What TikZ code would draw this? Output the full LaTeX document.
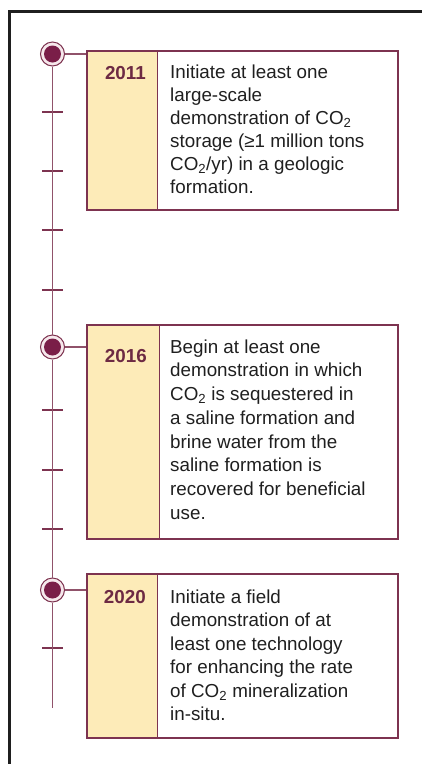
\documentclass[tikz,border=0pt]{standalone}
\usepackage{fontspec}
\setmainfont{Liberation Sans}
\usepackage{xcolor}
\usetikzlibrary{positioning}
\definecolor{tlmaroon}{HTML}{7D3350}
\definecolor{tldotfill}{HTML}{7A1E48}
\definecolor{tlyellow}{HTML}{FDEBB8}
\definecolor{tlyeartext}{HTML}{6D2A43}
\definecolor{tlpink}{HTML}{F6E8EC}
\tikzset{
  tlframe/.style={line width=3pt, draw=black!88, line cap=butt, line join=miter},
  tlline/.style={line width=1.5pt, draw=tlmaroon!85},
  tltick/.style={line width=1.8pt, draw=tlmaroon},
  tlring/.style={circle, fill=tlpink, draw=tlmaroon, line width=1pt, minimum size=24pt, inner sep=0pt},
  tldot/.style={circle, fill=tldotfill, minimum size=17pt, inner sep=0pt},
  tlbox/.style={draw=tlmaroon, line width=2pt, inner sep=0pt, anchor=north west},
  tlyearcol/.style={fill=tlyellow, draw=tlmaroon, line width=1.4pt, inner sep=0pt, anchor=north west},
  tlyear/.style={font=\fontsize{18.8}{22}\selectfont\bfseries, text=tlyeartext, inner sep=0pt, anchor=base east},
  tltext/.style={font=\fontsize{18.8}{#1}\selectfont, text=black!88, inner sep=0pt, align=left, anchor=north west},
  tltext/.default=23.2,
}

\begin{document}
\begin{tikzpicture}[x=1pt, y=-1pt]
\useasboundingbox (0,0) rectangle (422,764);
% outer frame
\draw[tlframe] (9,764) -- (9,11) -- (422,11);
% timeline points
\coordinate (p1) at (52.5,54);
\coordinate (p2) at (52.5,347);
\coordinate (p3) at (52.5,590);
\coordinate (tlend) at (52.5,708);
% ticks
\foreach \ty in {112,171,230,290,410,470,529,648}
  \draw[tltick] (42,\ty) -- (63,\ty);
% milestone boxes
\node[tlyearcol, minimum width=71pt, minimum height=159pt] (col1) at (86,50) {};
\node[tlbox, minimum width=311pt, minimum height=159pt] (b1) at (col1.north west) {};
\node[tlyearcol, minimum width=73pt, minimum height=214pt] (col2) at (86,324) {};
\node[tlbox, minimum width=311pt, minimum height=214pt] (b2) at (col2.north west) {};
\node[tlyearcol, minimum width=71pt, minimum height=164pt] (col3) at (86,573) {};
\node[tlbox, minimum width=311pt, minimum height=164pt] (b3) at (col3.north west) {};
% years
\node[tlyear] (y1) at (146,79) {2011};
\node[tlyear] (y2) at (147,362) {2016};
\node[tlyear] (y3) at (146,603) {2020};
% descriptions
\node[tltext=23] (d1) at (170,64.4) {Initiate at least one\\large-scale\\demonstration of CO\textsubscript{2}\\storage (≥1 million tons\\CO\textsubscript{2}/yr) in a geologic\\formation.};
\node[tltext=23.7] (d2) at (170,339.4) {Begin at least one\\demonstration in which\\CO\textsubscript{2} is sequestered in\\a saline formation and\\brine water from the\\saline formation is\\recovered for beneficial\\use.};
\node[tltext=23.5] (d3) at (170,589.4) {Initiate a field\\demonstration of at\\least one technology\\for enhancing the rate\\of CO\textsubscript{2} mineralization\\in-situ.};
% circles on the timeline
\foreach \i in {1,2,3} {
  \node[tlring] (c\i) at (p\i) {};
  \node[tldot] at (c\i) {};
}
% timeline and connectors
\draw[tlline] (c1.south) -- (c2.north);
\draw[tlline] (c2.south) -- (c3.north);
\draw[tlline] (c3.south) -- (tlend);
\draw[tlline, line width=1.8pt] (c1.east) -- (b1.west |- c1);
\draw[tlline, line width=1.8pt] (c2.east) -- (b2.west |- c2);
\draw[tlline, line width=1.8pt] (c3.east) -- (b3.west |- c3);
\end{tikzpicture}
\end{document}
